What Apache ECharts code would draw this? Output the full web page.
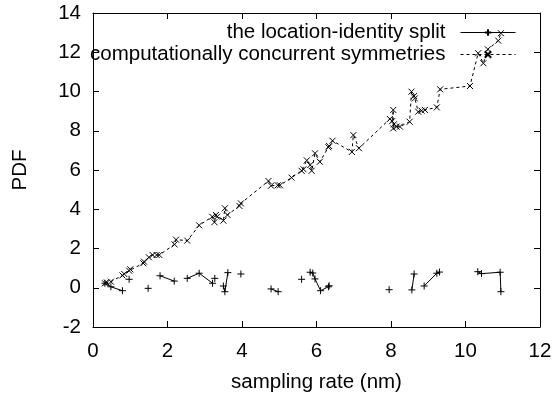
<!DOCTYPE html>
<html>
<head>
<meta charset="utf-8">
<script src="https://cdn.jsdelivr.net/npm/echarts@6/dist/echarts.min.js"></script>
<style>html,body{margin:0;padding:0;background:#fff}#c{width:558px;height:395px}</style>
</head>
<body>
<div id="c"></div>
<script>
// Series 1: "the location-identity split" (null = gap between segments)
var splitX = [0.32, 0.48, 0.79, null, 0.97, null, 1.48, null, 1.80, 2.18, null, 2.53, 2.85, 3.21, null, 3.27, null, 3.50, 3.54, 3.62, null, 3.97, null, 4.78, 4.97, null, 5.60, null, 5.83, 5.90, 5.96, 6.11, 6.32, 6.34, null, 7.95, null, 8.56, 8.62, null, 8.89, 9.23, 9.30, null, 10.33, 10.43, 10.93, 10.95];
var splitY = [0.23, 0.05, -0.15, null, 0.43, null, -0.03, null, 0.61, 0.34, null, 0.48, 0.74, 0.23, null, 0.48, null, 0.09, -0.20, 0.77, null, 0.70, null, -0.06, -0.20, null, 0.43, null, 0.79, 0.75, 0.45, -0.15, 0.05, 0.10, null, -0.10, null, -0.11, 0.70, null, 0.09, 0.74, 0.80, null, 0.82, 0.72, 0.79, -0.20];

// Series 2: "computationally concurrent symmetries"
var symX = [0.32, 0.37, 0.48, 0.79, 0.84, 0.97, 1.00, 1.35, 1.37, 1.50, 1.60, 1.71, 1.78, 2.19, 2.23, 2.53, 2.85, 3.20, 3.26, 3.30, 3.33, 3.50, 3.54, 3.61, 3.93, 3.97, 4.71, 4.78, 4.96, 5.02, 5.33, 5.60, 5.65, 5.74, 5.83, 5.87, 5.96, 6.09, 6.32, 6.34, 6.43, 6.95, 6.99, 7.14, 7.97, 8.03, 8.06, 8.06, 8.08, 8.15, 8.24, 8.50, 8.55, 8.62, 8.64, 8.73, 8.82, 8.91, 9.23, 9.32, 10.12, 10.34, 10.48, 10.60, 10.88, 10.95];
var symY = [0.23, 0.26, 0.31, 0.63, 0.70, 0.87, 0.94, 1.25, 1.33, 1.55, 1.67, 1.67, 1.67, 2.21, 2.45, 2.40, 3.18, 3.62, 3.34, 3.71, 3.62, 3.42, 4.05, 3.71, 4.17, 4.30, 5.44, 5.20, 5.22, 5.22, 5.61, 5.96, 6.04, 6.49, 6.25, 5.96, 6.85, 6.42, 7.16, 7.22, 7.49, 6.92, 7.78, 7.11, 8.60, 8.49, 9.06, 8.12, 8.33, 8.21, 8.21, 8.46, 9.99, 9.77, 9.65, 8.97, 9.02, 9.06, 9.19, 10.11, 10.28, 11.95, 11.44, 12.15, 12.59, 12.97];

var xTicks = {min: 0, max: 12, interval: 2};
var yTicks = {min: -2, max: 14, interval: 2};
var names = ['the location-identity split', 'computationally concurrent symmetries'];

var FONT = 'Liberation Sans, Arial, sans-serif';
var FS = 20.5;
var plusPath = 'path://M0,5L10,5M5,0L5,10';
var crossPath = 'path://M0,0L10,10M0,10L10,0';

function pairs(xs, ys) {
  return xs.map(function (x, i) { return x === null ? ['-', '-'] : [x, ys[i]]; });
}

var axisCommon = {
  type: 'value',
  axisLine: {show: true, onZero: false, lineStyle: {color: '#000', width: 1}},
  axisTick: {show: true, inside: true, length: 6, lineStyle: {color: '#000', width: 1}},
  splitLine: {show: false}
};
function ax(extra) { return Object.assign({}, JSON.parse(JSON.stringify(axisCommon)), extra); }

function legendFor(name, top) {
  return {
    data: [name], right: 37, top: top, align: 'right', itemWidth: 55, itemHeight: 8, itemGap: 0,
    lineStyle: {width: 1, color: '#000'},
    textStyle: {fontSize: FS, color: '#000', fontFamily: FONT, padding: [0, 10, 0, 0]}
  };
}

var chart = echarts.init(document.getElementById('c'), null, {renderer: 'canvas'});
chart.setOption({
  animation: false,
  backgroundColor: '#fff',
  textStyle: {fontFamily: FONT},
  grid: {left: 93, right: 18, top: 13, bottom: 68, containLabel: false, outerBoundsMode: 'none'},
  legend: [legendFor(names[0], 17), legendFor(names[1], 39)],
  xAxis: [
    ax({position: 'bottom', min: xTicks.min, max: xTicks.max, interval: xTicks.interval,
        axisLabel: {fontSize: FS, color: '#000', margin: 14, fontFamily: FONT},
        name: 'sampling rate (nm)', nameLocation: 'middle', nameGap: 45,
        nameTextStyle: {fontSize: FS, color: '#000', fontFamily: FONT}}),
    ax({position: 'top', min: xTicks.min, max: xTicks.max, interval: xTicks.interval,
        axisLabel: {show: false}})
  ],
  yAxis: [
    ax({position: 'left', min: yTicks.min, max: yTicks.max, interval: yTicks.interval,
        axisLabel: {fontSize: FS, color: '#000', margin: 12, fontFamily: FONT},
        name: 'PDF', nameLocation: 'middle', nameGap: 62, nameRotate: 90,
        nameTextStyle: {fontSize: FS, color: '#000', fontFamily: FONT}}),
    ax({position: 'right', min: yTicks.min, max: yTicks.max, interval: yTicks.interval,
        axisLabel: {show: false}})
  ],
  series: [
    {
      name: names[0], type: 'line', xAxisIndex: 0, yAxisIndex: 0,
      data: pairs(splitX, splitY), connectNulls: false,
      symbol: plusPath, symbolSize: 7, showAllSymbol: true,
      itemStyle: {color: '#000', borderColor: '#000', borderWidth: 1},
      lineStyle: {color: '#000', width: 1, type: 'solid'},
      emphasis: {disabled: true}
    },
    {
      name: names[1], type: 'line', xAxisIndex: 0, yAxisIndex: 0,
      data: pairs(symX, symY),
      symbol: crossPath, symbolSize: 6, showAllSymbol: true,
      itemStyle: {color: '#000', borderColor: '#000', borderWidth: 1},
      lineStyle: {color: '#000', width: 1, type: [3, 3]},
      emphasis: {disabled: true}
    }
  ]
});
</script>
</body>
</html>
